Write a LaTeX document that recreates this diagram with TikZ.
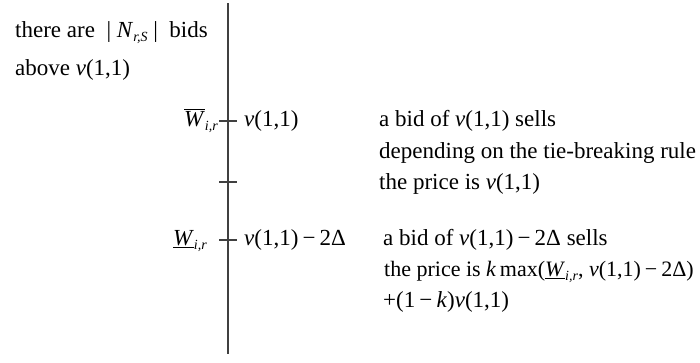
\documentclass[tikz,border=0pt]{standalone}
\usepackage{fontspec}
\setmainfont{Liberation Serif}
\newcommand{\sbs}[1]{\raisebox{-0.45ex}{\fontsize{14}{14}\selectfont\textit{#1}}}
\newcommand{\vone}{\textit{v}(1,1)}
\newcommand{\mns}{\kern0.18em−\kern0.18em}
\begin{document}
\begin{tikzpicture}[x=1pt,y=-1pt,
  lbl/.style={inner sep=0pt, font=\fontsize{23}{27}\selectfont, text height=15pt, text depth=5pt},
  axisline/.style={line width=1.6pt, draw=black!75},
  tickmark/.style={line width=1.3pt, draw=black!75}]
\useasboundingbox (0,0) rectangle (700,362);
\coordinate (top) at (228,3);
\coordinate (bot) at (228,354);
\coordinate (t1) at (228,121);
\coordinate (t2) at (228,182);
\coordinate (t3) at (228,240);
\draw[axisline] (top) -- (bot);
\foreach \t in {t1,t2,t3} {\draw[tickmark] (\t) ++(-9,0) -- ++(18,0);}
\node[lbl,anchor=west] (l1) at (15,32) {there are \ | \textit{N}\sbs{r,S} | \ bids};
\node[lbl,anchor=west] (l2) at (15,70) {above \vone};
\node[lbl,anchor=east] (wbar) at (218,121) {$\overline{\hbox{\textit{W}}}$\sbs{i,r}};
\node[lbl,anchor=west] (v1) at (244,121) {\vone};
\node[lbl,anchor=west] (a1) at (379,121) {a bid of \vone\ sells};
\node[lbl,anchor=west] (a2) at (379,153) {depending on the tie-breaking rule};
\node[lbl,anchor=west] (a3) at (379,184) {the price is \vone};
\node[lbl,anchor=east] (wund) at (207,240) {\underline{\textit{W}}\sbs{i,r}};
\node[lbl,anchor=west] (v2) at (244,240) {\vone\mns 2Δ};
\node[lbl,anchor=west] (b1) at (383,240) {a bid of \vone\mns 2Δ sells};
\node[lbl,anchor=west,font=\fontsize{22}{26}\selectfont] (b2) at (384,271) {the price is \textit{k}\,max(\underline{\textit{W}}\sbs{i,r}, \vone\mns 2Δ)};
\node[lbl,anchor=west] (b3) at (383,302) {+(1\mns\textit{k})\vone};
\end{tikzpicture}
\end{document}
